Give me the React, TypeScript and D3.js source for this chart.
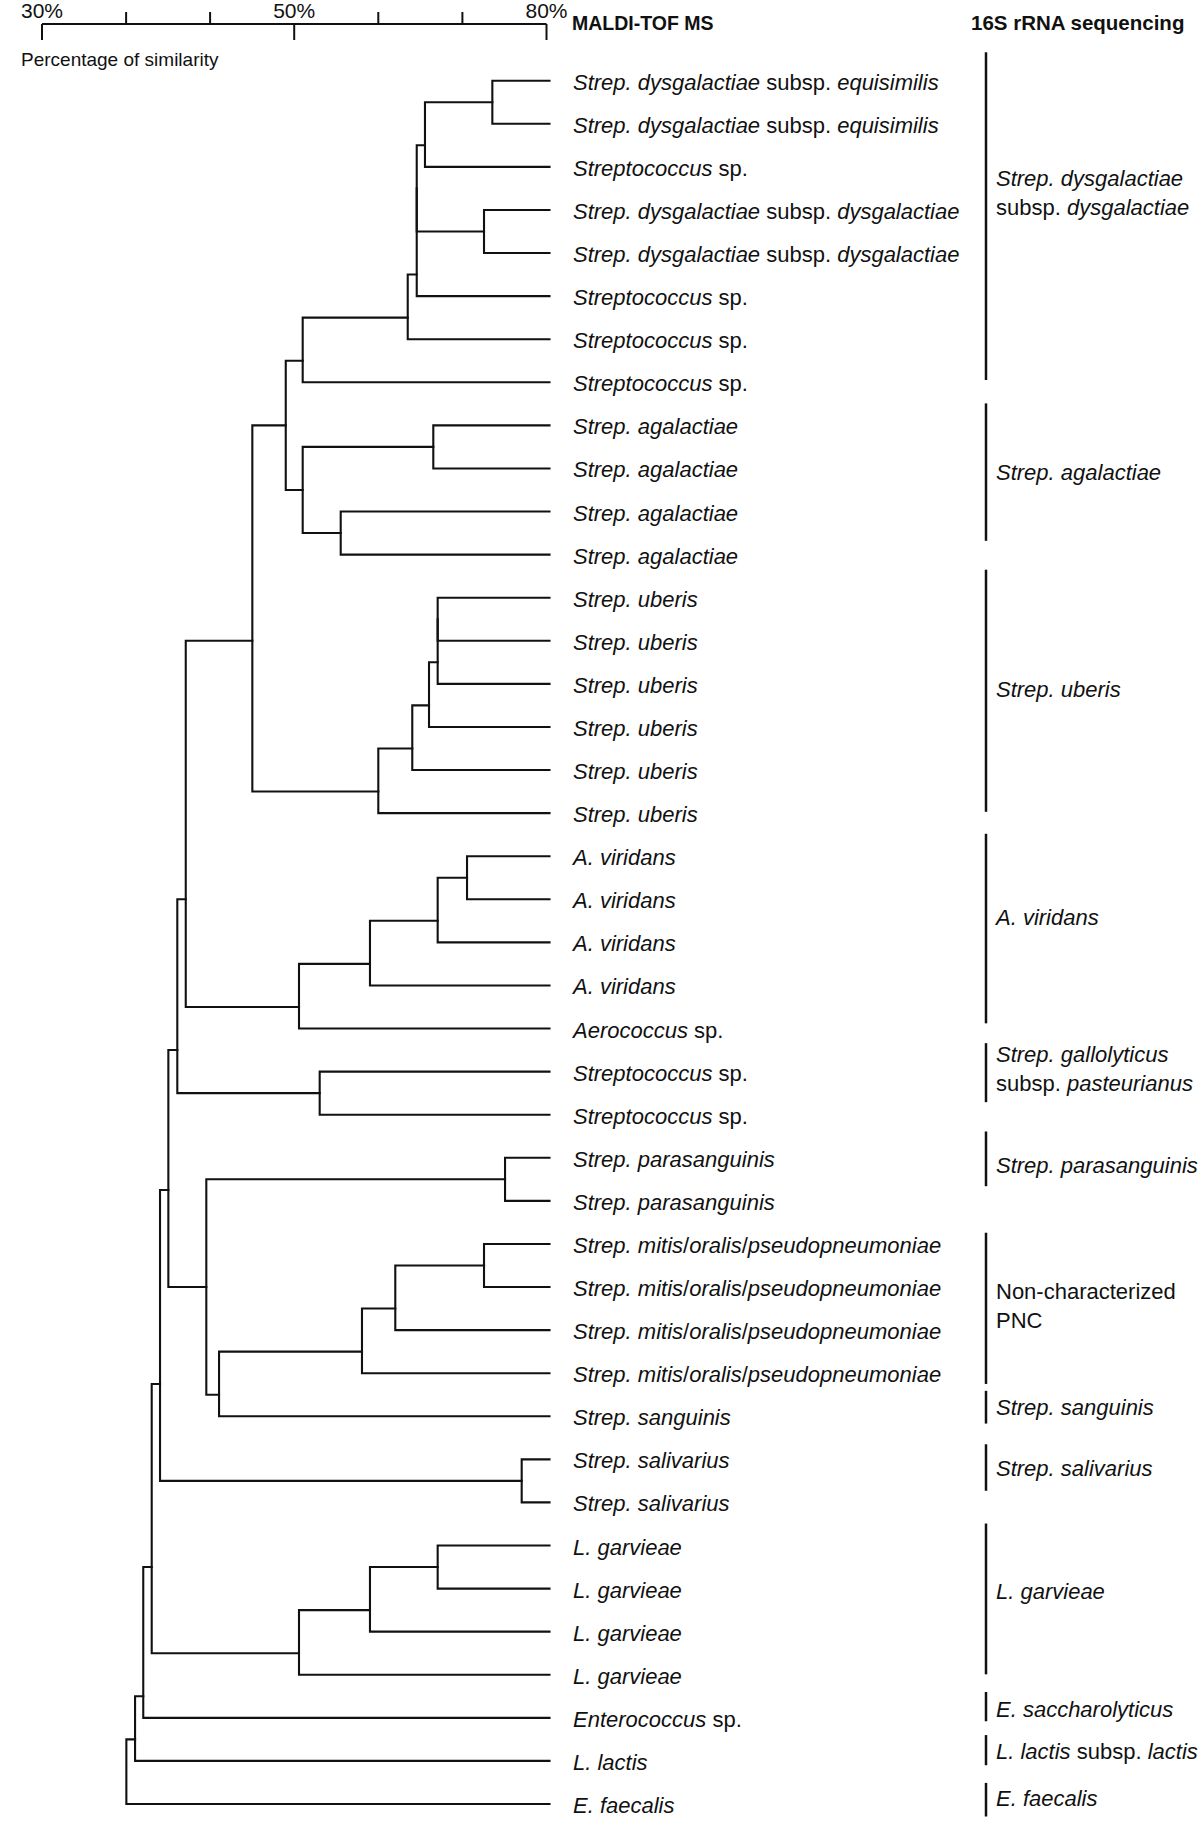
import React from "react";
import * as d3 from "d3";

// ---------- DATA ----------
// Leaf labels (MALDI-TOF MS identification), top to bottom. *...* = italic
const leafLabels: string[] = [
  "*Strep. dysgalactiae* subsp. *equisimilis*",
  "*Strep. dysgalactiae* subsp. *equisimilis*",
  "*Streptococcus* sp.",
  "*Strep. dysgalactiae* subsp. *dysgalactiae*",
  "*Strep. dysgalactiae* subsp. *dysgalactiae*",
  "*Streptococcus* sp.",
  "*Streptococcus* sp.",
  "*Streptococcus* sp.",
  "*Strep. agalactiae*",
  "*Strep. agalactiae*",
  "*Strep. agalactiae*",
  "*Strep. agalactiae*",
  "*Strep. uberis*",
  "*Strep. uberis*",
  "*Strep. uberis*",
  "*Strep. uberis*",
  "*Strep. uberis*",
  "*Strep. uberis*",
  "*A. viridans*",
  "*A. viridans*",
  "*A. viridans*",
  "*A. viridans*",
  "*Aerococcus* sp.",
  "*Streptococcus* sp.",
  "*Streptococcus* sp.",
  "*Strep. parasanguinis*",
  "*Strep. parasanguinis*",
  "*Strep. mitis*/*oralis*/*pseudopneumoniae*",
  "*Strep. mitis*/*oralis*/*pseudopneumoniae*",
  "*Strep. mitis*/*oralis*/*pseudopneumoniae*",
  "*Strep. mitis*/*oralis*/*pseudopneumoniae*",
  "*Strep. sanguinis*",
  "*Strep. salivarius*",
  "*Strep. salivarius*",
  "*L. garvieae*",
  "*L. garvieae*",
  "*L. garvieae*",
  "*L. garvieae*",
  "*Enterococcus* sp.",
  "*L. lactis*",
  "*E. faecalis*",
];

// Merge table (hclust style): negative = leaf number (1-based), positive = earlier merge (1-based)
// [childA, childB, % similarity]
const merges: [number, number, number][] = [
  [-1, -2, 73.56],
  [1, -3, 65.55],
  [-4, -5, 72.57],
  [2, 3, 64.57],
  [4, -6, 64.57],
  [5, -7, 63.5],
  [6, -8, 51.01],
  [-9, -10, 66.54],
  [-11, -12, 55.53],
  [8, 9, 51.01],
  [7, 10, 49.33],
  [-13, -14, 67.06],
  [12, -15, 67.06],
  [13, -16, 66.03],
  [14, -17, 64.04],
  [15, -18, 60.0],
  [11, 16, 46.68],
  [-19, -20, 70.55],
  [18, -21, 67.06],
  [19, -22, 59.01],
  [20, -23, 50.57],
  [17, 21, 41.4],
  [-24, -25, 53.03],
  [22, 23, 40.73],
  [-26, -27, 75.07],
  [-28, -29, 72.57],
  [26, -30, 62.02],
  [27, -31, 58.06],
  [28, -32, 44.04],
  [25, 29, 43.03],
  [24, 30, 40.02],
  [-33, -34, 77.05],
  [31, 32, 39.36],
  [-35, -36, 67.06],
  [34, -37, 59.01],
  [35, -38, 50.57],
  [33, 36, 38.7],
  [37, -39, 38.03],
  [38, -40, 37.38],
  [39, -41, 36.69],
];

// Similarity axis
const axisLabelled: number[] = [30, 50, 80];
const axisMinor: number[] = [36.67, 43.33, 60, 70];
const axisLabels: string[] = ["30%", "50%", "80%"];

// 16S rRNA sequencing groups (extents in leaf-row units, 0 = first leaf)
const groupLabels: string[][] = [
  ["*Strep. dysgalactiae*", "subsp. *dysgalactiae*"],
  ["*Strep. agalactiae*"],
  ["*Strep. uberis*"],
  ["*A. viridans*"],
  ["*Strep. gallolyticus*", "subsp. *pasteurianus*"],
  ["*Strep. parasanguinis*"],
  ["Non-characterized", "PNC"],
  ["*Strep. sanguinis*"],
  ["*Strep. salivarius*"],
  ["*L. garvieae*"],
  ["*E. saccharolyticus*"],
  ["*L. lactis* subsp. *lactis*"],
  ["*E. faecalis*"],
];
const groupSpanStart: number[] = [-0.66, 7.49, 11.35, 17.48, 22.34, 24.39, 26.74, 30.41, 31.65, 33.49, 37.4, 38.4, 39.51];
const groupSpanEnd: number[] = [6.95, 10.68, 16.97, 21.88, 23.71, 25.66, 30.25, 31.17, 32.73, 36.99, 38.08, 39.1, 40.29];
const groupLabelRow: number[] = [2.59, 9.09, 14.13, 19.4, 22.92, 25.17, 28.42, 30.79, 32.19, 35.05, 37.8, 38.78, 39.86];

// ---------- LAYOUT ----------
const W = 1200;
const H = 1823;
const FONT = "'Liberation Sans', Arial, Helvetica, sans-serif";

const xScale = d3.scaleLinear().domain(axisLabelled).range([42, 294.2, 546.5]);
const yScale = d3
  .scaleLinear()
  .domain([0, leafLabels.length - 1])
  .range([80.7, 1804]);

const leafX = xScale(80) + 3;
const axisY = 24;
const labelX = 573;
const groupBarX = 986;
const groupTextX = 996;

type TNode = {
  x: number;
  y: number;
  leaf: boolean;
  lastLeafY: number;
  c?: [TNode, TNode];
};

function buildTree() {
  const leaves: TNode[] = leafLabels.map((_, i) => ({
    x: leafX,
    y: yScale(i),
    leaf: true,
    lastLeafY: yScale(i),
  }));
  const internal: TNode[] = [];
  const get = (id: number) => (id < 0 ? leaves[-id - 1] : internal[id - 1]);
  merges.forEach(([a, b, s]) => {
    const A = get(a);
    const B = get(b);
    let anchor: number;
    if (A.leaf) anchor = A.y;
    else if (B.leaf) anchor = A.lastLeafY;
    else if (A.c![1].leaf) anchor = A.y;
    else anchor = A.c![1].y;
    internal.push({
      x: xScale(s),
      y: (anchor + B.y) / 2,
      leaf: false,
      lastLeafY: B.lastLeafY,
      c: [A, B],
    });
  });
  return internal;
}

function RichText({ s, x, y, size, weight }: { s: string; x: number; y: number; size: number; weight?: string }) {
  const parts = s.split("*");
  return (
    <text x={x} y={y} fontSize={size} fontFamily={FONT} fontWeight={weight || "normal"} style={{ whiteSpace: "pre" }} fill="#111">
      {parts.map((p, i) =>
        p === "" ? null : (
          <tspan key={i} fontStyle={i % 2 === 1 ? "italic" : "normal"}>
            {p}
          </tspan>
        )
      )}
    </text>
  );
}

export default function App() {
  const internal = buildTree();
  const paths = internal.map((n) => {
    const [A, B] = n.c!;
    const p = d3.path();
    p.moveTo(A.x, A.y);
    p.lineTo(n.x, A.y);
    p.lineTo(n.x, B.y);
    p.lineTo(B.x, B.y);
    return p.toString();
  });

  return (
    <svg
      width={W}
      height={H}
      viewBox={`0 0 ${W} ${H}`}
      style={{ position: "absolute", left: 0, top: 0, background: "#fff" }}
    >
      <rect width={W} height={H} fill="#fff" />
      {/* axis */}
      <g stroke="#111" strokeWidth={2} fill="none">
        <line x1={xScale(30)} x2={xScale(80)} y1={axisY} y2={axisY} />
        {axisLabelled.map((v) => (
          <line key={"M" + v} x1={xScale(v)} x2={xScale(v)} y1={axisY} y2={axisY + 16} />
        ))}
        {axisMinor.map((v) => (
          <line key={"m" + v} x1={xScale(v)} x2={xScale(v)} y1={axisY - 12} y2={axisY} />
        ))}
      </g>
      {axisLabelled.map((v, i) => (
        <text key={"t" + v} x={xScale(v)} y={18} textAnchor="middle" fontSize={21} fontFamily={FONT} fill="#111">
          {axisLabels[i]}
        </text>
      ))}
      <text x={21} y={66} fontSize={19} fontFamily={FONT} fill="#111">
        Percentage of similarity
      </text>

      {/* headers */}
      <text x={572} y={30} fontSize={19.5} fontWeight="bold" fontFamily={FONT} fill="#111">
        MALDI-TOF MS
      </text>
      <text x={971} y={30} fontSize={20.5} fontWeight="bold" fontFamily={FONT} fill="#111">
        16S rRNA sequencing
      </text>

      {/* dendrogram */}
      <g stroke="#111" strokeWidth={2.1} fill="none" strokeLinejoin="miter" strokeLinecap="square">
        {paths.map((d, i) => (
          <path key={i} d={d} />
        ))}
      </g>

      {/* leaf labels */}
      {leafLabels.map((l, i) => (
        <RichText key={i} s={l} x={labelX} y={yScale(i) + 9} size={22} />
      ))}

      {/* 16S groups */}
      {groupLabels.map((lines, g) => {
        const y0 = yScale(groupSpanStart[g]);
        const y1 = yScale(groupSpanEnd[g]);
        const mid = yScale(groupLabelRow[g]);
        const lh = 29;
        const start = mid - ((lines.length - 1) * lh) / 2;
        return (
          <g key={g}>
            <line x1={groupBarX} x2={groupBarX} y1={y0} y2={y1} stroke="#111" strokeWidth={2.5} />
            {lines.map((ln, j) => (
              <RichText key={j} s={ln} x={groupTextX} y={start + j * lh + 8} size={22} />
            ))}
          </g>
        );
      })}
    </svg>
  );
}
